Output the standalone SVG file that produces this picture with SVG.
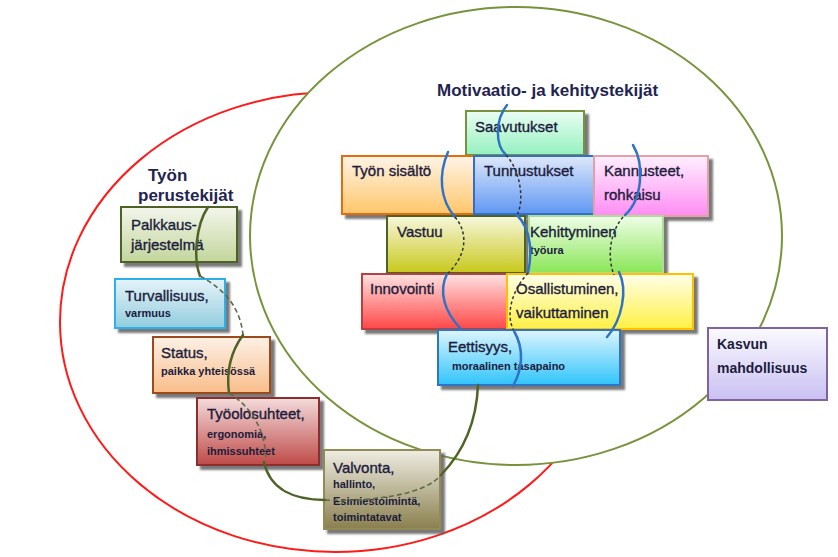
<svg xmlns="http://www.w3.org/2000/svg" width="838" height="557" viewBox="0 0 838 557">
<style>
.t{font-family:"Liberation Sans",Arial,sans-serif;font-size:15px;fill:#1c1c3c;stroke:#1c1c3c;stroke-width:0.35}
.s{font-family:"Liberation Sans",Arial,sans-serif;font-size:11px;font-weight:bold;fill:#1c1c3c}
.b{font-family:"Liberation Sans",Arial,sans-serif;font-size:14px;font-weight:bold;fill:#1c1c3c}
.h{font-family:"Liberation Sans",Arial,sans-serif;font-size:17px;font-weight:bold;fill:#1f2550}
.box{stroke-width:2;filter:url(#sh)}
.blue{fill:none;stroke:#2f73c4;stroke-width:2.5;stroke-linecap:round}
.bdash{fill:none;stroke:#333;stroke-width:1.5;stroke-dasharray:3 2.5}
.grn{fill:none;stroke:#4f6228;stroke-width:2.5;stroke-linecap:round}
.gdash{fill:none;stroke:#5c6b45;stroke-width:1.6;stroke-dasharray:5 3}
</style>
<defs>
<filter id="sh" x="-10%" y="-10%" width="130%" height="140%"><feDropShadow dx="4" dy="4" stdDeviation="0.8" flood-color="#606060" flood-opacity="0.85"/></filter>
<linearGradient id="gPal" x1="0" y1="0" x2="0" y2="1"><stop offset="0" stop-color="#f3f6ec"/><stop offset="1" stop-color="#c2d69b"/></linearGradient>
<linearGradient id="gTur" x1="0" y1="0" x2="0" y2="1"><stop offset="0" stop-color="#e6f3f9"/><stop offset="1" stop-color="#92cddd"/></linearGradient>
<linearGradient id="gSta" x1="0" y1="0" x2="0" y2="1"><stop offset="0" stop-color="#fdf1e6"/><stop offset="1" stop-color="#f9bd8a"/></linearGradient>
<linearGradient id="gTyo" x1="0" y1="0" x2="0" y2="1"><stop offset="0" stop-color="#f4dcdc"/><stop offset="1" stop-color="#be4b48"/></linearGradient>
<linearGradient id="gVal" x1="0" y1="0" x2="0" y2="1"><stop offset="0" stop-color="#efede3"/><stop offset="1" stop-color="#8a7f4e"/></linearGradient>
<linearGradient id="gSaa" x1="0" y1="0" x2="0" y2="1"><stop offset="0" stop-color="#ebfdf3"/><stop offset="1" stop-color="#94f1c0"/></linearGradient>
<linearGradient id="gSis" x1="0" y1="0" x2="0" y2="1"><stop offset="0" stop-color="#fff4e6"/><stop offset="1" stop-color="#ffc66a"/></linearGradient>
<linearGradient id="gTun" x1="0" y1="0" x2="0" y2="1"><stop offset="0" stop-color="#dfe8fb"/><stop offset="1" stop-color="#5f97f2"/></linearGradient>
<linearGradient id="gKan" x1="0" y1="0" x2="0" y2="1"><stop offset="0" stop-color="#fff0ff"/><stop offset="1" stop-color="#ff8cf3"/></linearGradient>
<linearGradient id="gVas" x1="0" y1="0" x2="0" y2="1"><stop offset="0" stop-color="#f7f7de"/><stop offset="1" stop-color="#c8c81c"/></linearGradient>
<linearGradient id="gKeh" x1="0" y1="0" x2="0" y2="1"><stop offset="0" stop-color="#effee8"/><stop offset="1" stop-color="#8ae657"/></linearGradient>
<linearGradient id="gInn" x1="0" y1="0" x2="0" y2="1"><stop offset="0" stop-color="#ffe2e2"/><stop offset="1" stop-color="#ff4747"/></linearGradient>
<linearGradient id="gOsa" x1="0" y1="0" x2="0" y2="1"><stop offset="0" stop-color="#ffffea"/><stop offset="1" stop-color="#fff044"/></linearGradient>
<linearGradient id="gEet" x1="0" y1="0" x2="0" y2="1"><stop offset="0" stop-color="#ddf5ff"/><stop offset="1" stop-color="#30c4fa"/></linearGradient>
<linearGradient id="gKas" x1="0" y1="0" x2="0" y2="1"><stop offset="0" stop-color="#fbfaff"/><stop offset="1" stop-color="#c9c0f2"/></linearGradient>
</defs>
<rect width="838" height="557" fill="#ffffff"/>

<g id="red-circle"><ellipse cx="335" cy="322" rx="275" ry="230" fill="none" stroke="#ff1a1a" stroke-width="2"/></g>
<g id="green-circle"><ellipse cx="516" cy="236" rx="266" ry="229" fill="#ffffff" stroke="#77933c" stroke-width="2"/></g>

<g id="title-perus"><text class="h" x="148" y="181">Työn</text><text class="h" x="138" y="201">perustekijät</text></g>
<g id="title-motivaatio"><text class="h" x="437" y="96">Motivaatio- ja kehitystekijät</text></g>

<g id="palkkaus"><rect class="box" x="121" y="207" width="116" height="55" fill="url(#gPal)" stroke="#4f6228"/><text class="t" x="131" y="230">Palkkaus-</text><text class="t" x="131" y="250">järjestelmä</text></g>
<g id="turvallisuus"><rect class="box" x="115" y="279" width="110" height="49" fill="url(#gTur)" stroke="#2bb0ee"/><text class="t" x="125" y="301">Turvallisuus,</text><text class="s" x="125" y="317">varmuus</text></g>
<g id="status"><rect class="box" x="153" y="337" width="117" height="56" fill="url(#gSta)" stroke="#9c4a1e"/><text class="t" x="161" y="358">Status,</text><text class="s" x="161" y="375">paikka yhteisössä</text></g>
<g id="tyoolosuhteet"><rect class="box" x="197" y="398" width="122" height="67" fill="url(#gTyo)" stroke="#8c2f2d"/><text class="t" x="207" y="419">Työolosuhteet,</text><text class="s" x="207" y="438">ergonomia,</text><text class="s" x="207" y="455">ihmissuhteet</text></g>
<g id="valvonta"><rect class="box" x="324" y="450" width="116" height="79" fill="url(#gVal)" stroke="#948a54"/><text class="t" x="333" y="473">Valvonta,</text><text class="s" x="333" y="488">hallinto,</text><text class="s" x="333" y="505">Esimiestoimintä,</text><text class="s" x="333" y="521">toimintatavat</text></g>

<g id="saavutukset"><rect class="box" x="466" y="111" width="118" height="44" fill="url(#gSaa)" stroke="#76923c"/><text class="t" x="475" y="132">Saavutukset</text></g>
<g id="tyon-sisalto"><rect class="box" x="342" y="156" width="132" height="58" fill="url(#gSis)" stroke="#e46c0a"/><text class="t" x="352" y="176">Työn sisältö</text></g>
<g id="tunnustukset"><rect class="box" x="474" y="156" width="120" height="58" fill="url(#gTun)" stroke="#2f6fcb"/><text class="t" x="484" y="176">Tunnustukset</text></g>
<g id="kannusteet"><rect class="box" x="594" y="156" width="114" height="60" fill="url(#gKan)" stroke="#e4a0a4"/><text class="t" x="604" y="176">Kannusteet,</text><text class="t" x="604" y="200">rohkaisu</text></g>
<g id="vastuu"><rect class="box" x="387" y="216" width="138" height="57" fill="url(#gVas)" stroke="#4f6228"/><text class="t" x="397" y="237">Vastuu</text></g>
<g id="kehittyminen"><rect class="box" x="529" y="216" width="134" height="57" fill="url(#gKeh)" stroke="#b0dc98"/><text class="t" x="530" y="237">Kehittyminen</text><text class="s" x="530" y="254">työura</text></g>
<g id="innovointi"><rect class="box" x="362" y="274" width="145" height="55" fill="url(#gInn)" stroke="#b84040"/><text class="t" x="370" y="294">Innovointi</text></g>
<g id="osallistuminen"><rect class="box" x="507" y="274" width="186" height="55" fill="url(#gOsa)" stroke="#ffc000"/><text class="t" x="516" y="294">Osallistuminen,</text><text class="t" x="516" y="318">vaikuttaminen</text></g>
<g id="eettisyys"><rect class="box" x="438" y="330" width="182" height="55" fill="url(#gEet)" stroke="#2e75c8"/><text class="t" x="448" y="352">Eettisyys,</text><text class="s" x="452" y="370">moraalinen tasapaino</text></g>

<g id="kasvun"><rect x="708" y="328" width="119" height="72" fill="url(#gKas)" stroke="#7f63a1" stroke-width="2"/><text class="b" x="717" y="349">Kasvun</text><text class="b" x="717" y="373">mahdollisuus</text></g>

<g id="connectors">
<path class="grn" d="M208,207 C196,225 193,258 200,276"/>
<path class="gdash" d="M200,276 C222,288 240,305 243,335"/>
<path class="grn" d="M243,335 C232,350 226,370 229,393"/>
<path class="gdash" d="M229,393 C248,405 265,425 266,460"/>
<path class="grn" d="M264,462 C270,490 295,500 325,500"/>
<path class="gdash" d="M325,500 C370,502 425,495 441,475"/>
<path class="grn" d="M441,475 C470,445 477,410 478,385"/>

<path class="blue" d="M448,152 C438,175 440,200 455,217"/>
<path class="bdash" d="M455,217 C470,235 465,258 447,274"/>
<path class="blue" d="M447,274 C438,292 445,312 460,328"/>

<path class="blue" d="M507,105 C495,120 495,145 506,155"/>
<path class="bdash" d="M506,155 C520,170 525,200 517,215"/>
<path class="blue" d="M517,215 C532,230 532,255 528,273"/>
<path class="bdash" d="M528,273 C512,290 505,315 514,331"/>
<path class="blue" d="M514,331 C525,350 522,370 513,386"/>

<path class="blue" d="M633,145 C645,165 642,200 625,215"/>
<path class="bdash" d="M623,217 C608,235 608,260 614,275"/>
<path class="blue" d="M619,272 C628,290 622,320 607,337"/>
</g>
</svg>
